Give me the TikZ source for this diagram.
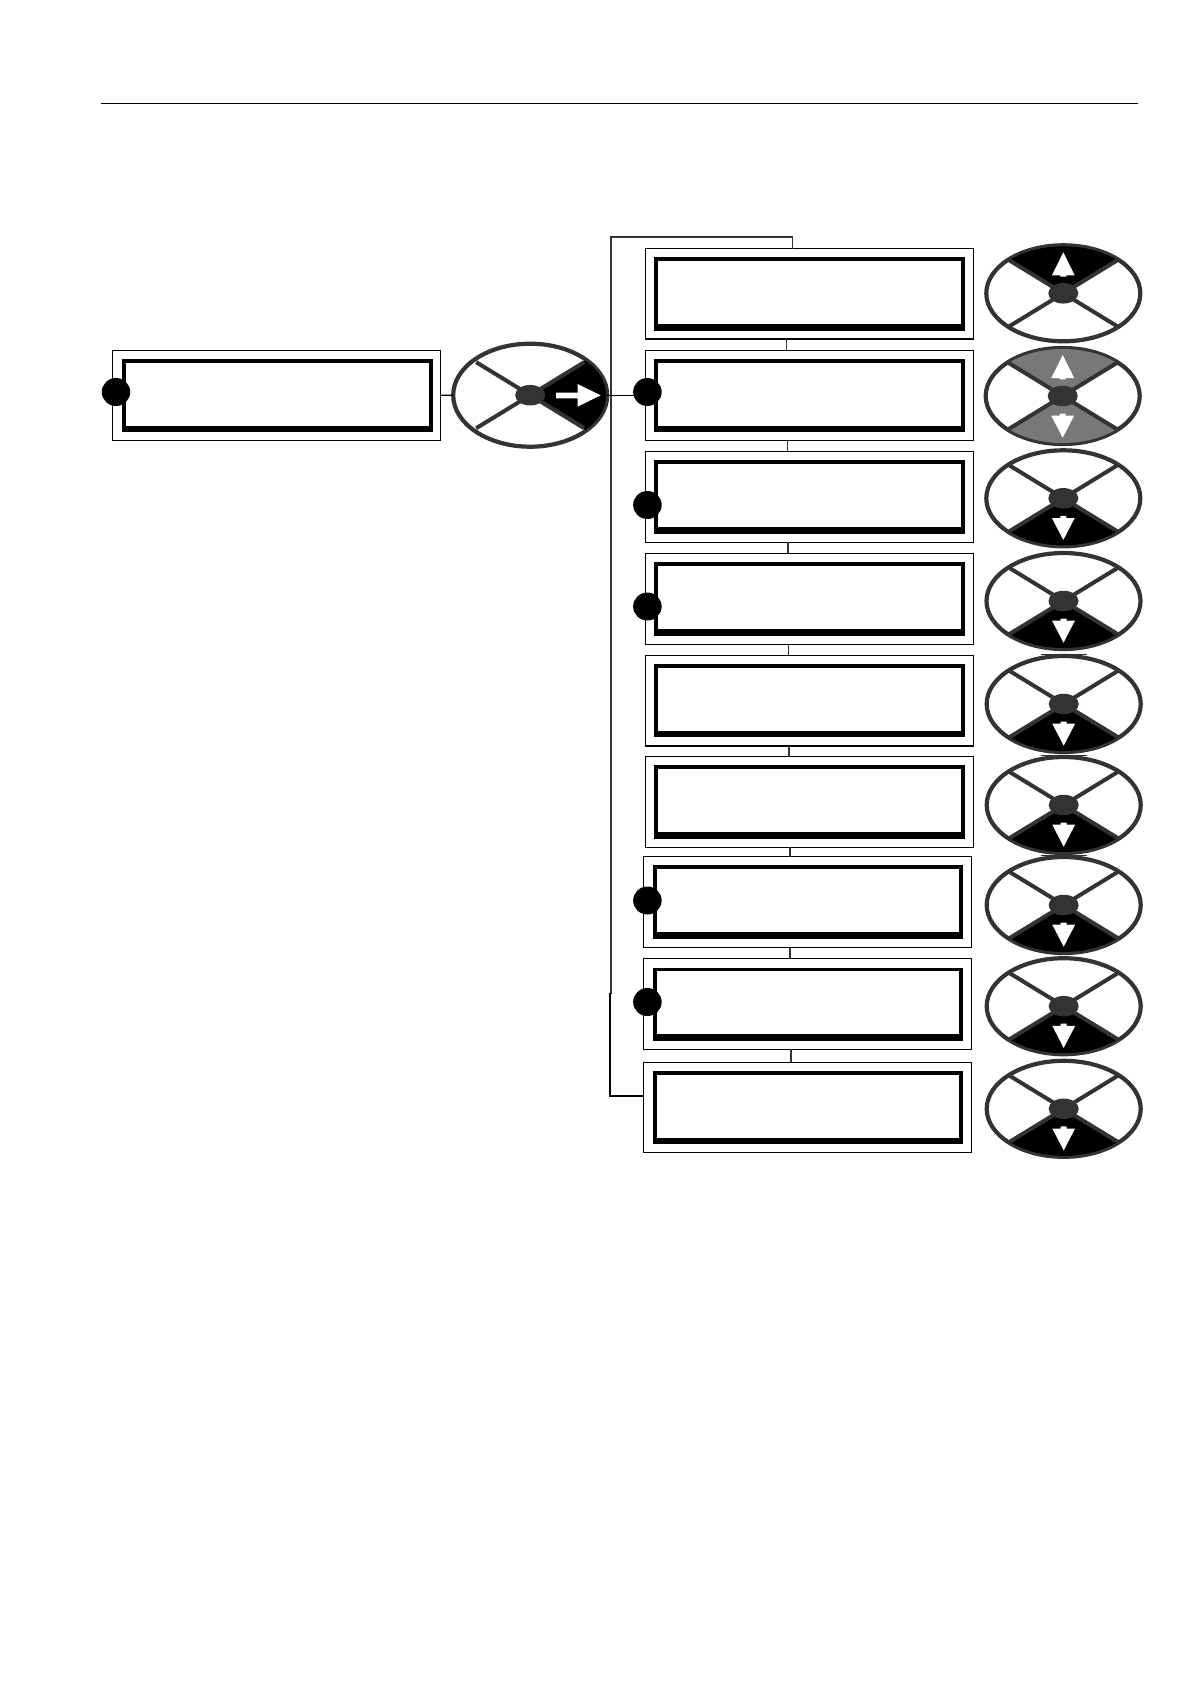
\documentclass[tikz,border=0pt]{standalone}
\usetikzlibrary{shapes.geometric}
\definecolor{dialgrey}{HTML}{333333}
\definecolor{sectorgrey}{HTML}{787878}
\tikzset{
  lcdouter/.style={draw=black,line width=1.4pt,fill=white,rectangle,inner sep=0pt,outer sep=0pt},
  lcdframe/.style={fill=black,rectangle,inner sep=0pt,outer sep=0pt},
  lcdwhite/.style={fill=white,rectangle,inner sep=0pt,outer sep=0pt},
  marker/.style={fill=black,ellipse,inner sep=0pt,outer sep=0pt,minimum width=28.5pt,minimum height=28pt},
  dial/.style={draw=dialgrey,line width=4.2pt,fill=white,ellipse,inner sep=0pt,outer sep=0pt,minimum width=154pt},
  hub/.style={fill=dialgrey,ellipse,inner sep=0pt,outer sep=0pt,minimum width=30pt,minimum height=20.5pt},
  spoke/.style={draw=dialgrey,line width=4pt},
  link/.style={draw=black,line width=1.1pt},
  linkgrey/.style={draw=dialgrey,line width=1.4pt},
  capline/.style={draw=dialgrey,line width=1.6pt}
}
% name, x, y, half height of the centre line, sector colour, sector (0 up, 1 both, 2 down, 3 right)
\newcommand{\dialunit}[6]{%
  \node[dial,minimum height={2*#4}] (#1) at (#2,#3) {};
  \begin{scope}
    \pgfmathsetlengthmacro{\clipry}{(#4-1)*1pt}
    \clip (#2,#3) ellipse [x radius=76pt,y radius=\clipry];
    \ifnum#6=0 \fill[#5] (#2,#3) -- ++(-108,-66) -- ++(216,0) -- cycle;\fi
    \ifnum#6=1 \fill[#5] (#2,#3) -- ++(-108,-66) -- ++(216,0) -- cycle;
               \fill[#5] (#2,#3) -- ++(-108,66) -- ++(216,0) -- cycle;\fi
    \ifnum#6=2 \fill[#5] (#2,#3) -- ++(-108,66) -- ++(216,0) -- cycle;\fi
    \ifnum#6=3 \fill[#5] (#2,#3) -- ++(108,-68) -- ++(0,136) -- cycle;\fi
    \draw[spoke] (#2,#3) ++(-54,-33) -- ++(108,66);
    \draw[spoke] (#2,#3) ++(-54,33) -- ++(108,-66);
  \end{scope}
  \node[hub] (#1h) at (#2,#3) {};
  \ifnum#6=0 \arrowup{#2}{#3}\fi
  \ifnum#6=1 \arrowup{#2}{#3}\arrowdown{#2}{#3}\fi
  \ifnum#6=2 \arrowdown{#2}{#3}\fi
}
\newcommand{\arrowup}[2]{%
  \fill[white] (#1,#2) ++(0,-41) -- ++(11.4,23) -- ++(-8.4,0) -- ++(0,1.3) -- ++(-6,0) -- ++(0,-1.3) -- ++(-8.4,0) -- cycle;}
\newcommand{\arrowdown}[2]{%
  \fill[white] (#1,#2) ++(0,41.7) -- ++(11.4,-22) -- ++(-8.4,0) -- ++(0,-2.2) -- ++(-6,0) -- ++(0,2.2) -- ++(-8.4,0) -- cycle;}
\begin{document}
\begin{tikzpicture}[x=1pt,y=-1pt]
\useasboundingbox[fill=white] (0,0) rectangle (1190,1684);
% page rule
\coordinate (ruleL) at (101,103);
\coordinate (ruleR) at (1138,103);
\draw[line width=1pt] (ruleL) -- (ruleR);
% display boxes
\foreach \n/\xa/\ya/\xb/\yb/\iya/\iyb/\wya/\wyb in {
  lb/112.5/350.3/440.7/440.3/359.3/431.7/362.8/425.5,
  b1/645.4/248.3/973.2/339/257.3/330.7/261/323.7,
  b2/645.4/350.7/973.2/440.3/359.3/431.7/362.8/426,
  b3/645.4/451.7/973.2/542.3/460/533.7/464/527,
  b4/645.4/553.3/973.2/644.3/562/635.7/566/629,
  b5/645.4/655.3/973.2/746/664.3/736.7/667.5/731,
  b6/645.4/756.7/973.2/847.3/765.3/838.7/769/832,
  b7/643.6/856.7/971.4/947.3/865.3/938.7/869/932,
  b8/643.6/958.7/971.4/1049.3/967.5/1041/971/1034,
  b9/643.6/1062.3/971.4/1152.3/1071.3/1143.7/1074.5/1138}{
  \node[lcdouter,minimum width={\xb-\xa},minimum height={\yb-\ya}] (\n) at ({(\xa+\xb)/2},{(\ya+\yb)/2}) {};
  \node[lcdframe,minimum width={\xb-\xa-17.2},minimum height={\iyb-\iya}] (\n f) at ({(\xa+\xb)/2+0.4},{(\iya+\iyb)/2}) {};
  \node[lcdwhite,minimum width={\xb-\xa-25.2},minimum height={\wyb-\wya}] (\n w) at ({(\xa+\xb)/2+0.4},{(\wya+\wyb)/2}) {};
}
% connectors between boxes
\coordinate (k12) at (786.4,0);
\coordinate (k23) at (787.5,0);
\coordinate (k34) at (788,0);
\coordinate (k45) at (788.3,0);
\coordinate (k56) at (789,0);
\coordinate (k67) at (790,0);
\coordinate (k78) at (790,0);
\coordinate (k89) at (791,0);
\foreach \a/\b/\k in {b1/b2/k12,b2/b3/k23,b3/b4/k34,b4/b5/k45,b5/b6/k56,b6/b7/k67,b7/b8/k78,b8/b9/k89}{
  \draw[linkgrey] (\a.south -| \k) -- (\b.north -| \k);
}
% loop back trunk
\coordinate (topR) at (792.5,237);
\coordinate (topL) at (611,237);
\coordinate (trunkA) at (611,993);
\coordinate (trunkB) at (610,993);
\coordinate (trunkC) at (610,1095.7);
\draw[linkgrey,line cap=rect] (b1.north -| topR) -- (topR) -- (topL) -- (trunkA);
\draw[link,line width=1.8pt] (trunkB) -- (trunkC) -- (trunkC -| b9.west);
% left dial and its links
\dialunit{w0}{530.2}{395.2}{51.5}{black}{3}
\draw[link] (lb.east) -- (w0.west);
\draw[link] (w0.east) -- (w0.east -| b2.west);
\fill[white] (556,392.7) -- (577.5,392.7) -- (577.5,384) -- (600.7,395.3) -- (577.5,406.7) -- (577.5,398.3) -- (556,398.3) -- cycle;
% right dials
\dialunit{w1}{1063.3}{293.3}{48}{black}{0}
\dialunit{w2}{1062.7}{396}{48}{sectorgrey}{1}
\dialunit{w3}{1063.3}{498.3}{48}{black}{2}
\dialunit{w4}{1063.5}{601}{48}{black}{2}
\dialunit{w5}{1063.7}{704}{48}{black}{2}
\dialunit{w6}{1063.7}{805}{48}{black}{2}
\dialunit{w7}{1063.7}{905}{48}{black}{2}
\dialunit{w8}{1063.7}{1006.2}{48}{black}{2}
\dialunit{w9}{1063.7}{1108.8}{48}{black}{2}
\foreach \w in {w5,w6,w7}{
  \draw[capline] ([xshift=-23pt,yshift=1.4pt]\w.north) -- ([xshift=23pt,yshift=1.4pt]\w.north);
}
% markers
\node[marker] (d0) at (116,392) {};
\node[marker] (d2) at (647.4,392) {};
\node[marker] (d3) at (647.4,505) {};
\node[marker] (d4) at (647.4,606.5) {};
\node[marker] (d7) at (647.4,900.5) {};
\node[marker] (d8) at (647.4,1002) {};
\end{tikzpicture}
\end{document}
